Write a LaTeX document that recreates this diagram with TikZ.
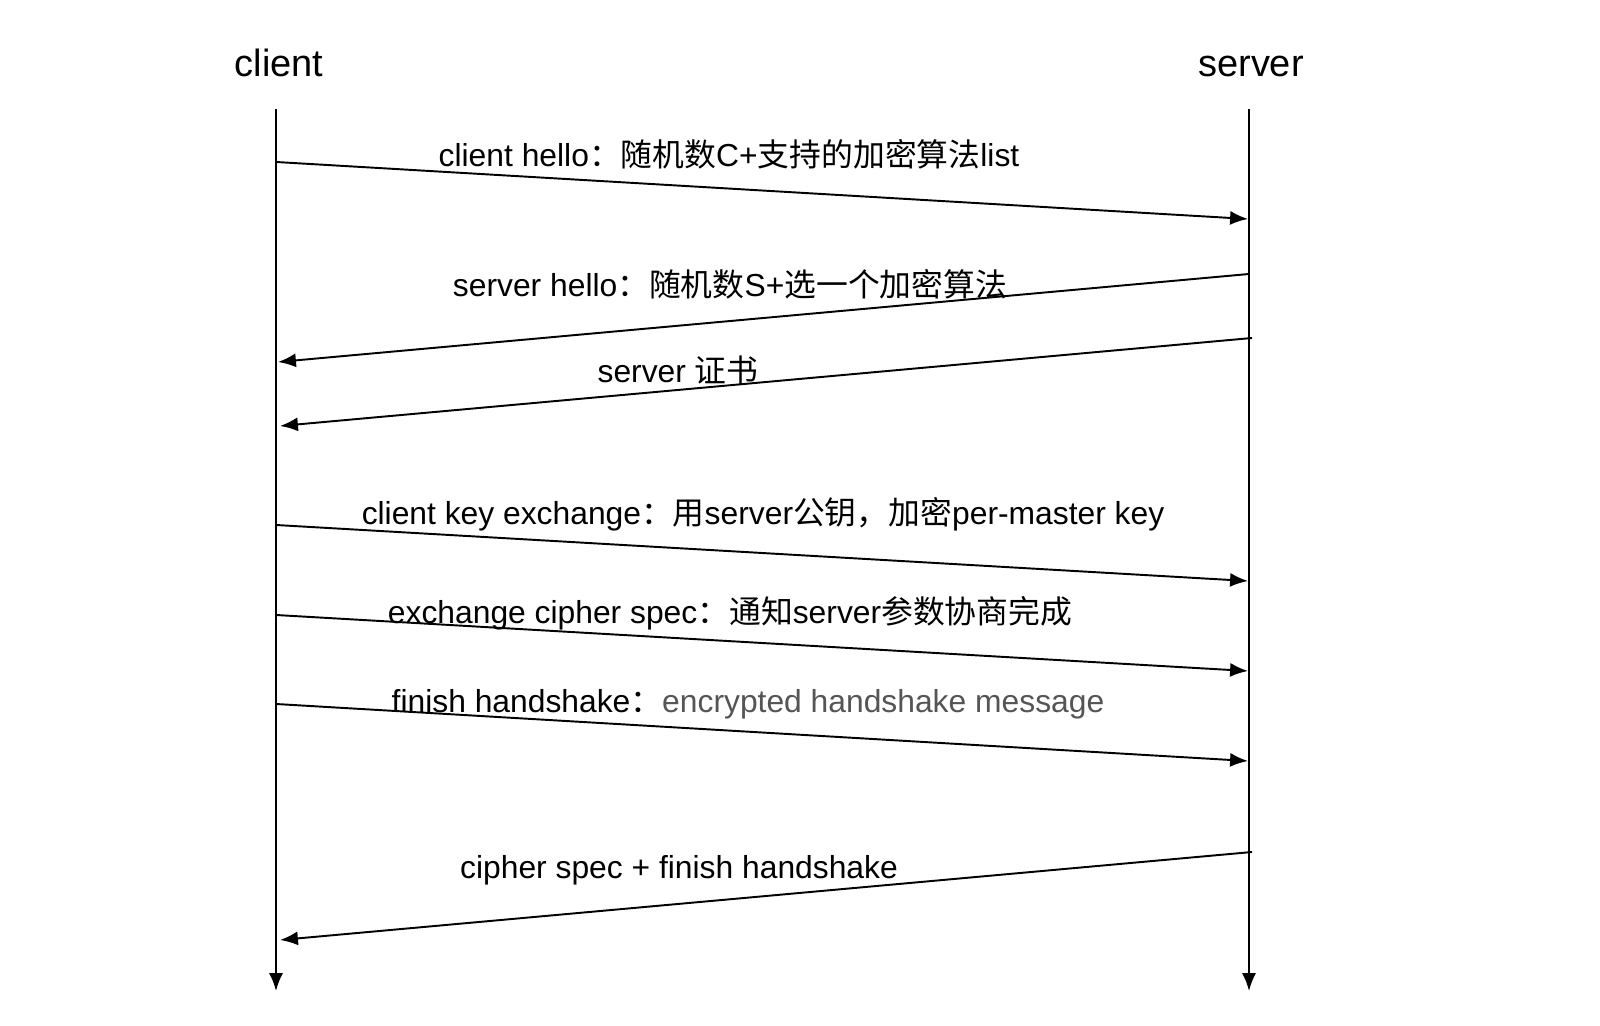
\documentclass[tikz,border=0pt]{standalone}
\usepackage{fontspec}
\setmainfont{Liberation Sans}
\newfontfamily\zh{Noto Sans CJK SC}
\usetikzlibrary{arrows.meta}
\definecolor{msggray}{HTML}{555555}
\tikzset{
  lifeline/.style={line width=0.55pt, -{Latex[length=5.1pt,width=4pt]}},
  msg/.style={line width=0.55pt, -{Latex[length=5.1pt,width=4pt]}},
  party/.style={font=\fontsize{10.8}{12}\selectfont, inner sep=0pt, anchor=base},
  msglabel/.style={font=\fontsize{9.05}{10}\selectfont, inner sep=0pt},
}

\begin{document}
\begin{tikzpicture}
        \useasboundingbox (0,0) rectangle (16,-10.26);

        % party
        \node[party] (client) at (2.79,-0.77) {client};
        \node[party] (server) at (12.51,-0.77) {server};

        % lifeline
        \coordinate (c-top) at (2.76,-1.09);
        \coordinate (c-bot) at (2.76,-9.91);
        \coordinate (s-top) at (12.49,-1.09);
        \coordinate (s-bot) at (12.49,-9.91);
        \draw[lifeline] (c-top) -- (c-bot);
        \draw[lifeline] (s-top) -- (s-bot);

        % client hello
        \coordinate (c1) at (2.76,-1.62);
        \coordinate (s1) at (12.48,-2.19);
        \draw[msg] (c1) -- (s1);
        \node[msglabel] (hello-c) at (7.29,-1.54) {client hello{\zh ：随机数}C+{\zh 支持的加密算法}list};

        % server hello
        \coordinate (s2) at (12.49,-2.74);
        \coordinate (c2) at (2.78,-3.62);
        \draw[msg] (s2) -- (c2);
        \node[msglabel] (hello-s) at (7.30,-2.84) {server hello{\zh ：随机数}S+{\zh 选一个加密算法}};

        % certificate
        \coordinate (s3) at (12.52,-3.38);
        \coordinate (c3) at (2.80,-4.26);
        \draw[msg] (s3) -- (c3);
        \node[msglabel] (cert) at (6.78,-3.70) {server {\zh 证书}};

        % client key exchange
        \coordinate (c4) at (2.76,-5.25);
        \coordinate (s4) at (12.48,-5.81);
        \draw[msg] (c4) -- (s4);
        \node[msglabel] (key-ex) at (7.63,-5.14) {client key exchange{\zh ：用}server{\zh 公钥，加密}per-master key};

        % change cipher spec
        \coordinate (c5) at (2.76,-6.15);
        \coordinate (s5) at (12.48,-6.71);
        \draw[msg] (c5) -- (s5);
        \node[msglabel] (spec-c) at (7.30,-6.13) {exchange cipher spec{\zh ：通知}server{\zh 参数协商完成}};

        % finish
        \coordinate (c6) at (2.76,-7.04);
        \coordinate (s6) at (12.48,-7.61);
        \draw[msg] (c6) -- (s6);
        \node[msglabel] (finish-c) at (7.48,-7.04) {finish handshake{\zh ：}\textcolor{msggray}{encrypted handshake message}};

        % server finish
        \coordinate (s7) at (12.52,-8.52);
        \coordinate (c7) at (2.80,-9.40);
        \draw[msg] (s7) -- (c7);
        \node[msglabel] (finish-s) at (6.79,-8.70) {cipher spec + finish handshake};
\end{tikzpicture}
\end{document}
